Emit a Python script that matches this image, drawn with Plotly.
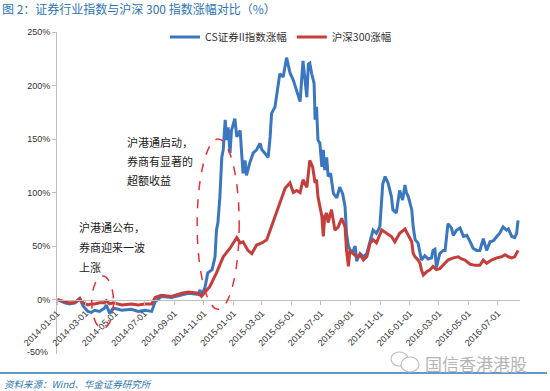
import plotly.graph_objects as go

# ---------------- data ----------------
cs_dates = [
    "2014-01-02", "2014-01-10", "2014-01-17", "2014-01-27", "2014-02-07", "2014-02-17", "2014-02-24",
    "2014-03-06", "2014-03-13", "2014-03-20", "2014-03-30", "2014-04-09", "2014-04-13", "2014-04-20",
    "2014-04-27", "2014-05-08", "2014-05-15", "2014-06-04", "2014-06-18", "2014-07-02", "2014-07-16",
    "2014-07-23", "2014-08-05", "2014-08-26", "2014-09-16", "2014-09-30", "2014-10-20", "2014-10-24",
    "2014-10-27", "2014-11-03", "2014-11-09", "2014-11-18", "2014-11-24", "2014-11-27", "2014-11-30",
    "2014-12-04", "2014-12-08", "2014-12-11", "2014-12-15", "2014-12-18", "2014-12-21", "2014-12-25",
    "2014-12-28", "2015-01-04", "2015-01-08", "2015-01-15", "2015-01-18", "2015-01-21", "2015-01-25",
    "2015-01-28", "2015-02-04", "2015-02-11", "2015-02-18", "2015-02-25", "2015-03-01", "2015-03-07",
    "2015-03-14", "2015-03-18", "2015-03-21", "2015-03-28", "2015-04-04", "2015-04-07", "2015-04-14",
    "2015-04-21", "2015-04-28", "2015-05-05", "2015-05-12", "2015-05-19", "2015-05-25", "2015-05-29",
    "2015-06-02", "2015-06-05", "2015-06-08", "2015-06-12", "2015-06-17", "2015-06-19", "2015-06-22",
    "2015-06-25", "2015-06-29", "2015-07-03", "2015-07-06", "2015-07-09", "2015-07-13", "2015-07-16",
    "2015-07-21", "2015-07-27", "2015-08-03", "2015-08-09", "2015-08-15", "2015-08-20", "2015-08-23",
    "2015-08-27", "2015-09-03", "2015-09-10", "2015-09-13", "2015-09-20", "2015-09-27", "2015-10-04",
    "2015-10-11", "2015-10-17", "2015-10-24", "2015-10-31", "2015-11-06", "2015-11-11", "2015-11-17",
    "2015-11-24", "2015-11-27", "2015-12-04", "2015-12-11", "2015-12-17", "2015-12-22", "2015-12-25",
    "2015-12-29", "2016-01-05", "2016-01-08", "2016-01-12", "2016-01-18", "2016-01-22", "2016-01-25",
    "2016-02-01", "2016-02-08", "2016-02-15", "2016-02-18", "2016-02-22", "2016-02-25", "2016-03-03",
    "2016-03-10", "2016-03-14", "2016-03-20", "2016-03-27", "2016-03-31", "2016-04-07", "2016-04-14",
    "2016-04-21", "2016-04-28", "2016-05-05", "2016-05-11", "2016-05-18", "2016-05-25", "2016-06-01",
    "2016-06-04", "2016-06-08", "2016-06-15", "2016-06-22", "2016-06-29", "2016-07-05", "2016-07-12",
    "2016-07-19", "2016-07-23", "2016-07-30", "2016-08-05", "2016-08-09", "2016-08-12",
]
cs_values = [
    0, -2, -3, -4, -3, 1, -6,
    -11, -12, -10, -11, -8, -5, -13,
    -8, -9, -10, -9, -11, -10, -11,
    -2, 3, 2, 4, 6, 5, 9,
    4, 11, 25, 28, 40, 65, 72,
    96, 133, 140, 168, 149, 161, 137,
    158, 169, 152, 158, 137, 118, 130,
    116, 128, 137, 140, 146, 140, 137,
    133, 152, 174, 180, 199, 211, 208,
    226, 212, 205, 195, 185, 223, 205,
    189, 220, 221, 211, 202, 168, 180,
    149, 146, 124, 140, 121, 133, 115,
    118, 99, 95, 105, 99, 87, 62,
    50, 43, 50, 36, 43, 40, 43,
    56, 65, 62, 68, 108, 115, 109,
    96, 84, 81, 102, 93, 107, 100,
    96, 84, 68, 56, 53, 43, 37,
    41, 38, 39, 46, 47, 30, 43,
    46, 46, 71, 67, 60, 65, 67,
    59, 60, 54, 48, 46, 46, 57,
    53, 46, 54, 55, 59, 62, 68,
    65, 66, 59, 58, 62, 74,
]

hs300_dates = [
    "2014-01-02", "2014-01-10", "2014-01-17", "2014-01-27", "2014-02-07", "2014-02-17", "2014-02-24",
    "2014-03-06", "2014-03-13", "2014-03-20", "2014-03-30", "2014-04-09", "2014-04-13", "2014-04-20",
    "2014-04-27", "2014-05-15", "2014-06-04", "2014-06-18", "2014-07-02", "2014-07-16", "2014-07-23",
    "2014-08-05", "2014-08-26", "2014-09-16", "2014-09-30", "2014-10-20", "2014-10-27", "2014-11-13",
    "2014-11-27", "2014-12-11", "2014-12-25", "2015-01-08", "2015-01-15", "2015-01-21", "2015-01-31",
    "2015-02-08", "2015-02-18", "2015-03-01", "2015-03-11", "2015-03-18", "2015-03-28", "2015-04-07",
    "2015-04-18", "2015-04-28", "2015-05-05", "2015-05-12", "2015-05-19", "2015-05-25", "2015-06-02",
    "2015-06-08", "2015-06-14", "2015-06-19", "2015-06-22", "2015-06-25", "2015-06-29", "2015-07-03",
    "2015-07-06", "2015-07-09", "2015-07-13", "2015-07-16", "2015-07-23", "2015-07-30", "2015-08-06",
    "2015-08-13", "2015-08-20", "2015-08-23", "2015-08-27", "2015-08-30", "2015-09-06", "2015-09-13",
    "2015-09-20", "2015-09-27", "2015-10-04", "2015-10-11", "2015-10-17", "2015-10-24", "2015-11-04",
    "2015-11-14", "2015-11-24", "2015-12-01", "2015-12-11", "2015-12-22", "2015-12-29", "2016-01-05",
    "2016-01-08", "2016-01-12", "2016-01-18", "2016-01-22", "2016-01-25", "2016-01-29", "2016-02-05",
    "2016-02-12", "2016-02-18", "2016-02-25", "2016-03-03", "2016-03-14", "2016-03-20", "2016-03-31",
    "2016-04-10", "2016-04-17", "2016-04-24", "2016-05-05", "2016-05-15", "2016-05-25", "2016-06-01",
    "2016-06-08", "2016-06-18", "2016-06-29", "2016-07-09", "2016-07-16", "2016-07-23", "2016-07-30",
    "2016-08-05", "2016-08-12",
]
hs300_values = [
    0, -1, -2, -3, -3, 1, -3,
    -5, -4, -4, -3, -3, -1, -4,
    -3, -5, -4, -5, -4, -4, 2,
    4, 3, 6, 7, 6, 3, 12,
    25, 40, 48, 58, 53, 54, 46,
    43, 51, 53, 56, 65, 78, 90,
    104, 109, 100, 102, 100, 112, 105,
    130, 124, 109, 112, 96, 87, 78,
    59, 78, 81, 72, 84, 65, 68,
    76, 68, 46, 31, 46, 43, 40,
    42, 37, 40, 53, 56, 53, 65,
    62, 59, 54, 62, 66, 60, 54,
    43, 40, 37, 34, 28, 23, 26,
    28, 31, 28, 29, 34, 37, 39,
    40, 38, 37, 33, 32, 32, 37,
    34, 37, 39, 40, 42, 40, 39,
    40, 46,
]

series_names = ["CS证券II指数涨幅", "沪深300涨幅"]
y_ticks = [0, 50, 100, 150, 200, 250]
y_tick_labels = ["0%", "50%", "100%", "150%", "200%", "250%"]
y_bottom_label = "-50%"
y_min, y_max = -50.8, 250
x_start, x_end = "2014-01-01", "2016-08-16"

# ---------------- layout geometry ----------------
W, H = 550, 391
ML, MR, MT, MB = 57, 30, 32, 37
PW, PH = W - ML - MR, H - MT - MB


def px(x):
    return (x - ML) / PW


def py(y):
    return (H - MB - y) / PH


BLUE = "#3b77c0"
RED = "#c43e3c"
AXIS = "#bfbfbf"
CJK = "Noto Sans CJK SC, Noto Sans, sans-serif"
LAT = "Liberation Sans, Arial, sans-serif"

fig = go.Figure()
fig.add_trace(go.Scatter(x=cs_dates, y=cs_values, mode="lines", name=series_names[0],
                         line=dict(color=BLUE, width=3)))
fig.add_trace(go.Scatter(x=hs300_dates, y=hs300_values, mode="lines", name=series_names[1],
                         line=dict(color=RED, width=3)))

fig.update_layout(
    width=W, height=H,
    margin=dict(l=ML, r=MR, t=MT, b=MB, autoexpand=False),
    paper_bgcolor="white", plot_bgcolor="white",
    font=dict(family=CJK, color="#333333"),
    title=dict(text="图 2：证券行业指数与沪深 300 指数涨幅对比（%）",
               x=2 / W, xanchor="left", y=1 - 10 / H, yanchor="middle",
               font=dict(size=12, color="#2e75b6", family=CJK)),
    showlegend=True,
    legend=dict(orientation="h", x=px(165), xanchor="left", y=py(37), yanchor="middle",
                font=dict(size=10.5, color="#333333", family=CJK),
                bgcolor="rgba(0,0,0,0)", itemwidth=30, tracegroupgap=0),
    xaxis=dict(type="date", range=[x_start, x_end], anchor="free",
               position=(0 - y_min) / (y_max - y_min),
               automargin=False,
               showgrid=False, zeroline=False, showline=True, linecolor=AXIS, linewidth=1,
               ticks="outside", ticklen=4, tickcolor=AXIS,
               tick0="2014-01-01", dtick="M2", tickformat="%Y-%m-%d", tickangle=-45,
               tickfont=dict(size=9, family=LAT, color="#333333")),
    yaxis=dict(range=[y_min, y_max], tickmode="array", tickvals=y_ticks, ticktext=y_tick_labels,
               automargin=False,
               showgrid=False, zeroline=False, showline=True, linecolor=AXIS, linewidth=1,
               ticks="outside", ticklen=4, tickcolor=AXIS,
               tickfont=dict(size=9, family=LAT, color="#333333")),
)

# bottom y tick label, placed as text in the margin next to the axis end
fig.add_annotation(text=y_bottom_label, xref="paper", yref="paper", x=px(50), y=py(352),
                   xanchor="right", yanchor="middle", showarrow=False,
                   font=dict(size=9, family=LAT, color="#333333"))

# dashed ellipses
fig.add_shape(type="circle", xref="x", yref="y", x0="2014-03-14", x1="2014-04-28", y0=-27, y1=22,
              line=dict(color="#e8303a", width=1.5, dash="dash"))
fig.add_shape(type="circle", xref="x", yref="y", x0="2014-10-18", x1="2015-01-13", y0=-9, y1=150,
              line=dict(color="#e8303a", width=1.5, dash="dash"))

# annotation texts
notes = [
    ("沪港通启动，", 125, 142), ("券商有显著的", 125, 161), ("超额收益", 125, 180),
    ("沪港通公布，", 77, 227), ("券商迎来一波", 77, 247), ("上涨", 77, 267),
]
for t, x, y in notes:
    fig.add_annotation(text=t, xref="paper", yref="paper", x=px(x), y=py(y),
                       xanchor="left", yanchor="middle", showarrow=False,
                       font=dict(size=11, color="#1a1a1a", family=CJK))

# bottom rule + source
fig.add_shape(type="line", xref="paper", yref="paper", x0=px(0), x1=px(547), y0=py(373), y1=py(373),
              line=dict(color="#2e75b6", width=1.5))
fig.add_annotation(text="<i>资料来源：Wind、华金证券研究所</i>", xref="paper", yref="paper",
                   x=px(2), y=py(384), xanchor="left", yanchor="middle", showarrow=False,
                   font=dict(size=9.5, color="#2e75b6", family=CJK))

# watermark
fig.add_annotation(text="国信香港港股", xref="paper", yref="paper", x=px(423), y=py(363),
                   xanchor="left", yanchor="middle", showarrow=False,
                   font=dict(size=17, color="#b5b5b5", family=CJK))
fig.add_shape(type="circle", xref="paper", yref="paper", x0=px(391), x1=px(408), y0=py(366), y1=py(352),
              line=dict(color="#c0c0c0", width=1.2))
fig.add_shape(type="circle", xref="paper", yref="paper", x0=px(401), x1=px(419), y0=py(372), y1=py(357),
              line=dict(color="#c0c0c0", width=1.2), fillcolor="white")

# remove the default page margin so the figure sits at the window's top-left corner
fig.write_html("out.html", config={"displayModeBar": False},
               post_script="document.body.style.margin='0';")
